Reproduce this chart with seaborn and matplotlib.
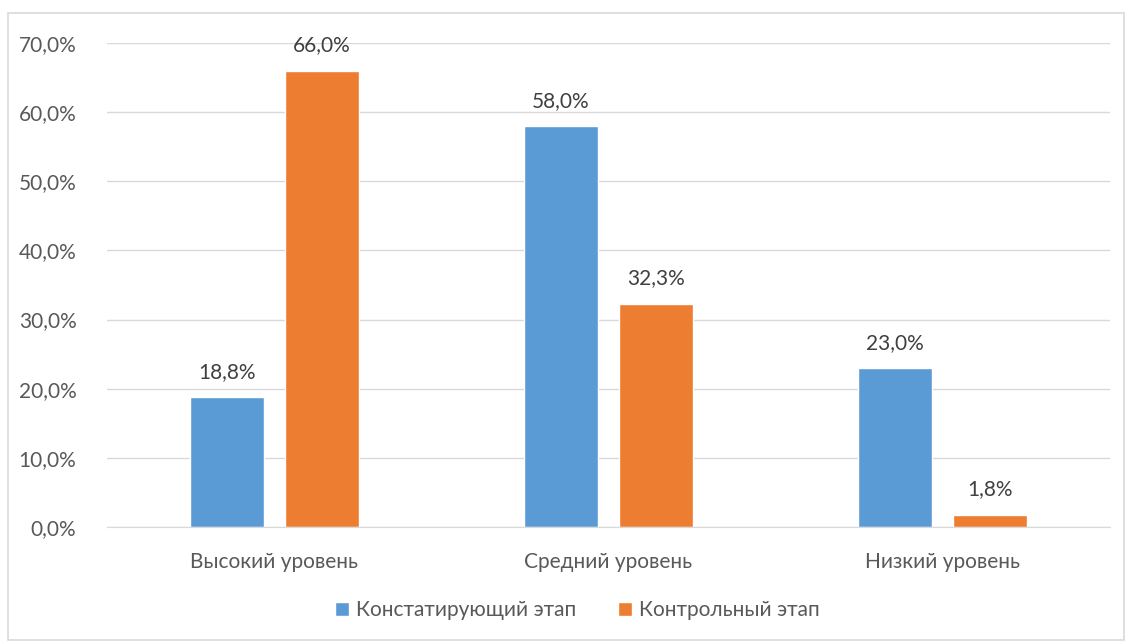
import pandas as pd
import matplotlib.pyplot as plt
import seaborn as sns
from matplotlib.patches import Rectangle
from matplotlib.ticker import FuncFormatter

levels = ['Высокий уровень', 'Средний уровень', 'Низкий уровень']
stages = ['Констатирующий этап', 'Контрольный этап']
stage1 = [18.8, 58.0, 23.0]
stage2 = [66.0, 32.3, 1.8]

colors = ['#5B9BD5', '#ED7D31']

df = pd.DataFrame({
    'Уровень': levels * 2,
    'Этап': [stages[0]] * 3 + [stages[1]] * 3,
    'Процент': stage1 + stage2,
})

sns.set_style('white')
plt.rcParams['font.family'] = ['Lato', 'DejaVu Sans']

fig = plt.figure(figsize=(11.25, 6.42), dpi=100)
ax = fig.add_axes([107 / 1125, 1 - 527 / 642, (1110 - 107) / 1125, (527 - 43) / 642])

sns.barplot(data=df, x='Уровень', y='Процент', hue='Этап', hue_order=stages,
            palette=colors, width=0.569, gap=0.221, saturation=1, ax=ax, legend=True)

fs = 15
ax.set_ylim(0, 70)
ax.set_yticks(range(0, 71, 10))
ax.yaxis.set_major_formatter(FuncFormatter(lambda v, p: f'{v:.1f}%'.replace('.', ',')))
ax.grid(axis='y', color='#D9D9D9', linewidth=1)
ax.set_axisbelow(True)
for s in ['top', 'right', 'left']:
    ax.spines[s].set_visible(False)
ax.spines['bottom'].set_color('#D9D9D9')
ax.tick_params(axis='both', length=0, labelsize=fs, colors='#595959')
ax.tick_params(axis='y', pad=22)
ax.tick_params(axis='x', pad=18)
ax.set_xlabel('')
ax.set_ylabel('')

for cont in ax.containers:
    ax.bar_label(cont, labels=[f'{v:.1f}%'.replace('.', ',') for v in cont.datavalues],
                 padding=11, fontsize=fs, color='#404040')

ax.legend(loc='center', bbox_to_anchor=(0.469, -0.172), ncol=2, frameon=False,
          fontsize=fs, labelcolor='#595959', handlelength=0.65, handleheight=0.65,
          handletextpad=0.35, columnspacing=2.0)

fig.patches.append(Rectangle((8 / 1125, 2 / 642), 1 - 9 / 1125, 1 - 15 / 642,
                             transform=fig.transFigure, fill=False,
                             edgecolor='#D9D9D9', linewidth=1.2))

fig.savefig('out.png', dpi=100, facecolor='white')
